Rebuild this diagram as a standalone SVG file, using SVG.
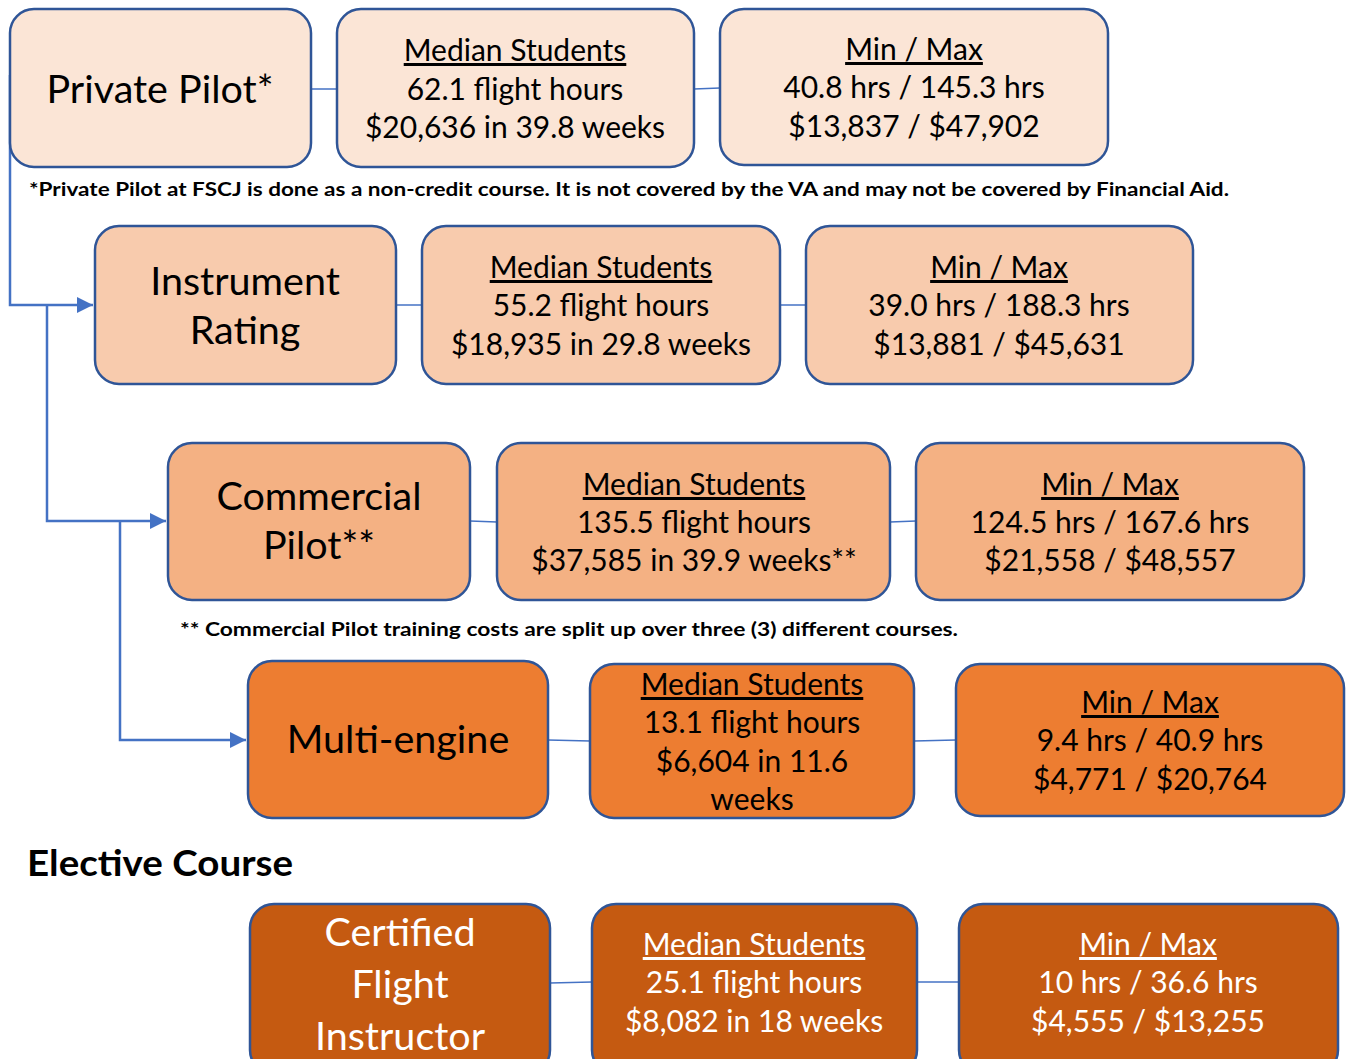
<svg xmlns="http://www.w3.org/2000/svg" width="1350" height="1059" viewBox="0 0 1350 1059">
<style>
.box{stroke:#2F5597;stroke-width:2.5}
.r1{fill:#FBE5D6}.r2{fill:#F8CBAD}.r3{fill:#F4B183}.r4{fill:#ED7D31}.r5{fill:#C55A11}
text{font-family:Lato,"Liberation Sans",sans-serif;fill:#000;text-anchor:middle}
.t{font-size:39.5px}
.d{font-size:30px}
.w{fill:#fff}
.u{text-decoration:underline}
.fn{font-size:19px;font-weight:bold;text-anchor:start}
.conn{stroke:#4472C4;stroke-width:2.5;fill:none}
.thin{stroke:#4472C4;stroke-width:1.5;fill:none}
</style>
<defs>
<marker id="ah" viewBox="0 0 10 10" refX="10" refY="5" markerWidth="6.5" markerHeight="6.5" markerUnits="strokeWidth" orient="auto">
<path d="M0,0 L10,5 L0,10 z" fill="#4472C4"/>
</marker>
</defs>
<g id="connectors">
<path class="thin" d="M311,89 L337,89"/>
<path class="thin" d="M694,89 L720,88"/>
<path class="thin" d="M396,305 L422,305"/>
<path class="thin" d="M780,305 L806,305"/>
<path class="thin" d="M470,521 L497,522"/>
<path class="thin" d="M890,522 L916,521"/>
<path class="thin" d="M548,740 L590,741"/>
<path class="thin" d="M914,741 L956,740"/>
<path class="thin" d="M550,983 L592,982"/>
<path class="thin" d="M917,982 L959,982"/>
<path class="conn" d="M10,75 L10,305 L93,305" marker-end="url(#ah)"/>
<path class="conn" d="M47,305 L47,521 L166,521" marker-end="url(#ah)"/>
<path class="conn" d="M120,521 L120,740 L246,740" marker-end="url(#ah)"/>
</g>
<g id="private-pilot"><rect class="box r1" x="10" y="9" width="301" height="158" rx="24"/><text class="t" x="160" y="103">Private Pilot*</text></g>
<g id="pp-median"><rect class="box r1" x="337" y="9" width="357" height="158" rx="24"/><text class="d" x="515" y="61"><tspan class="u">Median Students</tspan><tspan x="515" dy="39">62.1 flight hours</tspan><tspan x="515" dy="38">$20,636 in 39.8 weeks</tspan></text></g>
<g id="pp-minmax"><rect class="box r1" x="720" y="9" width="388" height="156" rx="24"/><text class="d" x="914" y="60"><tspan class="u">Min / Max</tspan><tspan x="914" dy="38">40.8 hrs / 145.3 hrs</tspan><tspan x="914" dy="39">$13,837 / $47,902</tspan></text></g>
<text id="fn1" class="fn" x="29" y="196" textLength="1200" lengthAdjust="spacingAndGlyphs">*Private Pilot at FSCJ is done as a non-credit course. It is not covered by the VA and may not be covered by Financial Aid.</text>
<g id="instrument"><rect class="box r2" x="95" y="226" width="301" height="158" rx="24"/><text class="t" x="245" y="295">Instrument<tspan x="245" dy="49">Rating</tspan></text></g>
<g id="ir-median"><rect class="box r2" x="422" y="226" width="358" height="158" rx="24"/><text class="d" x="601" y="278"><tspan class="u">Median Students</tspan><tspan x="601" dy="38">55.2 flight hours</tspan><tspan x="601" dy="39">$18,935 in 29.8 weeks</tspan></text></g>
<g id="ir-minmax"><rect class="box r2" x="806" y="226" width="387" height="158" rx="24"/><text class="d" x="999" y="278"><tspan class="u">Min / Max</tspan><tspan x="999" dy="38">39.0 hrs / 188.3 hrs</tspan><tspan x="999" dy="39">$13,881 / $45,631</tspan></text></g>
<g id="commercial"><rect class="box r3" x="168" y="443" width="302" height="157" rx="24"/><text class="t" x="319" y="510">Commercial<tspan x="319" dy="49">Pilot**</tspan></text></g>
<g id="cp-median"><rect class="box r3" x="497" y="443" width="393" height="157" rx="24"/><text class="d" x="694" y="495"><tspan class="u">Median Students</tspan><tspan x="694" dy="38">135.5 flight hours</tspan><tspan x="694" dy="38">$37,585 in 39.9 weeks**</tspan></text></g>
<g id="cp-minmax"><rect class="box r3" x="916" y="443" width="388" height="157" rx="24"/><text class="d" x="1110" y="495"><tspan class="u">Min / Max</tspan><tspan x="1110" dy="38">124.5 hrs / 167.6 hrs</tspan><tspan x="1110" dy="38">$21,558 / $48,557</tspan></text></g>
<text id="fn2" class="fn" x="180" y="636" textLength="778" lengthAdjust="spacingAndGlyphs">** Commercial Pilot training costs are split up over three (3) different courses.</text>
<g id="multi-engine"><rect class="box r4" x="248" y="661" width="300" height="157" rx="24"/><text class="t" x="398" y="753">Multi-engine</text></g>
<g id="me-median"><rect class="box r4" x="590" y="664" width="324" height="154" rx="24"/><text class="d" x="752" y="695"><tspan class="u">Median Students</tspan><tspan x="752" dy="38">13.1 flight hours</tspan><tspan x="752" dy="39">$6,604 in 11.6</tspan><tspan x="752" dy="38">weeks</tspan></text></g>
<g id="me-minmax"><rect class="box r4" x="956" y="664" width="388" height="152" rx="24"/><text class="d" x="1150" y="713"><tspan class="u">Min / Max</tspan><tspan x="1150" dy="38">9.4 hrs / 40.9 hrs</tspan><tspan x="1150" dy="39">$4,771 / $20,764</tspan></text></g>
<text id="elective" x="27" y="876" textLength="266" lengthAdjust="spacingAndGlyphs" style="font-size:37px;font-weight:bold;text-anchor:start">Elective Course</text>
<g id="cfi"><rect class="box r5" x="250" y="904" width="300" height="170" rx="24"/><text class="t w" x="400" y="946">Certified<tspan x="400" dy="52">Flight</tspan><tspan x="400" dy="52">Instructor</tspan></text></g>
<g id="cfi-median"><rect class="box r5" x="592" y="904" width="325" height="170" rx="24"/><text class="d w" x="754" y="955"><tspan class="u">Median Students</tspan><tspan x="754" dy="38">25.1 flight hours</tspan><tspan x="754" dy="39">$8,082 in 18 weeks</tspan></text></g>
<g id="cfi-minmax"><rect class="box r5" x="959" y="904" width="379" height="170" rx="24"/><text class="d w" x="1148" y="955"><tspan class="u">Min / Max</tspan><tspan x="1148" dy="38">10 hrs / 36.6 hrs</tspan><tspan x="1148" dy="39">$4,555 / $13,255</tspan></text></g>
</svg>
